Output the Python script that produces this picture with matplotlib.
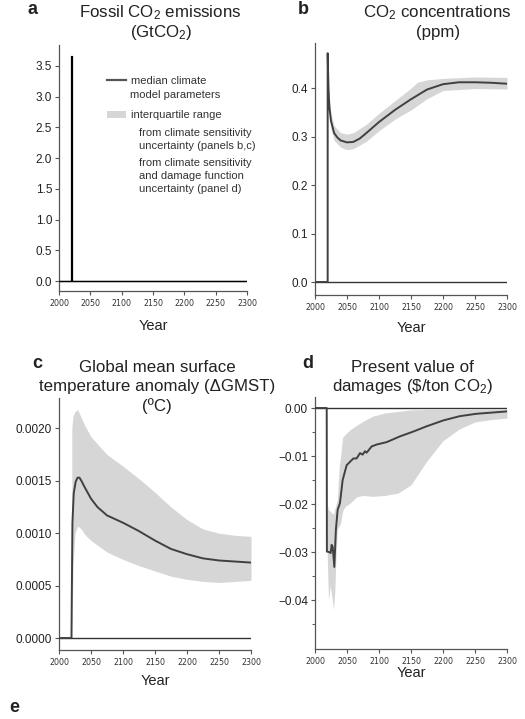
import numpy as np
import matplotlib
matplotlib.use("Agg")
import matplotlib.pyplot as plt
from matplotlib.lines import Line2D
from matplotlib.patches import Patch

plt.rcParams["font.family"] = ["Liberation Sans", "DejaVu Sans"]
plt.rcParams["mathtext.default"] = "regular"

LINE = "#404040"
BAND = "#d6d6d6"
TXT = "#222222"

# ── a: fossil CO2 emissions pulse ──────────────────────────────────────────
yr_a = [2000, 2019.5, 2019.5, 2020.5, 2020.5, 2300]
emis = [0.0, 0.0, 3.66, 3.66, 0.0, 0.0]

# ── b: CO2 concentrations ──────────────────────────────────────────────────
yr_b = [2000, 2019.8, 2019.8, 2021, 2022.4, 2025, 2030, 2035, 2040, 2050, 2060,
        2070, 2080, 2100, 2125, 2150, 2175, 2200, 2225, 2250, 2275, 2300]
conc_med = [0.0, 0.0, 0.472, 0.40, 0.362, 0.332, 0.307, 0.298, 0.292, 0.288, 0.289,
            0.296, 0.307, 0.330, 0.355, 0.377, 0.397, 0.408, 0.412, 0.412, 0.411, 0.409]
yr_b_band = [2021, 2022.4, 2025, 2030, 2040, 2050, 2060, 2080, 2100, 2125, 2150,
             2160, 2175, 2200, 2250, 2300]
conc_lo = [0.37, 0.345, 0.315, 0.292, 0.278, 0.273, 0.275, 0.290, 0.312, 0.336,
           0.355, 0.364, 0.378, 0.395, 0.399, 0.398]
conc_hi = [0.43, 0.38, 0.347, 0.322, 0.308, 0.305, 0.308, 0.325, 0.348, 0.374,
           0.400, 0.412, 0.417, 0.420, 0.423, 0.422]

# ── c: temperature anomaly ─────────────────────────────────────────────────
yr_c = [2000, 2019.5, 2020, 2021, 2023, 2026, 2029, 2032, 2035, 2040, 2050, 2060, 2075,
        2100, 2125, 2150, 2175, 2200, 2225, 2250, 2275, 2300]
temp_med = [0.0, 0.0, 0.0004, 0.0011, 0.00138, 0.00149, 0.00153, 0.00153, 0.00150, 0.00144,
            0.00133, 0.00125, 0.00117, 0.00110, 0.00102, 0.00093, 0.00085, 0.00080,
            0.00076, 0.00074, 0.00073, 0.00072]
yr_c_band = [2020, 2022, 2025, 2029, 2035, 2040, 2050, 2075, 2100, 2125, 2150, 2175,
             2200, 2225, 2250, 2275, 2300]
temp_lo = [0.0, 0.0007, 0.00100, 0.00107, 0.00104, 0.00099, 0.00093, 0.00082, 0.00075,
           0.00069, 0.00064, 0.00059, 0.00056, 0.00054, 0.00053, 0.00054, 0.00055]
temp_hi = [0.0020, 0.00212, 0.00216, 0.00218, 0.00210, 0.00203, 0.00192, 0.00175,
           0.00164, 0.00152, 0.00139, 0.00125, 0.00113, 0.00104, 0.00100, 0.00098, 0.00097]

# ── d: present value of damages ────────────────────────────────────────────
yr_d = [2000, 2018.3, 2018.6, 2022, 2024.5, 2026, 2027.6, 2030.2, 2032.6, 2035.4, 2039,
        2043.2, 2049.5, 2054.7, 2060, 2065, 2070.3, 2074.5, 2078.1, 2080.7, 2088.5,
        2096.4, 2112, 2132.8, 2153.6, 2174.5, 2200, 2226, 2252, 2300]
dmg_med = [0.0, 0.0, -0.0299, -0.0300, -0.0302, -0.0285, -0.0289, -0.0331, -0.0254,
           -0.0212, -0.0198, -0.0150, -0.0119, -0.0112, -0.0105, -0.0105, -0.0094,
           -0.0097, -0.0090, -0.0093, -0.0080, -0.0076, -0.0071, -0.0059, -0.0049,
           -0.0038, -0.0026, -0.0017, -0.0012, -0.0007]
yr_d_band = [2019, 2021, 2024, 2027, 2029, 2031, 2033, 2035, 2038, 2040, 2043, 2047,
             2055, 2065, 2075, 2090, 2110, 2130, 2150, 2175, 2200, 2225, 2250, 2275, 2300]
dmg_lo = [-0.030, -0.040, -0.037, -0.040, -0.042, -0.038, -0.030, -0.0253, -0.0245,
          -0.024, -0.0215, -0.0205, -0.0198, -0.0185, -0.0182, -0.0184, -0.0182,
          -0.0177, -0.0160, -0.0110, -0.0068, -0.0044, -0.0029, -0.0024, -0.0021]
dmg_hi = [-0.020, -0.0212, -0.0215, -0.022, -0.022, -0.021, -0.020, -0.019, -0.012,
          -0.0100, -0.0062, -0.0055, -0.0045, -0.0036, -0.0028, -0.0017, -0.0010,
          -0.0007, -0.0004, -0.0003, -0.0002, -0.0002, -0.0001, -0.0001, -0.0001]

W, H = 525, 719
fig = plt.figure(figsize=(W / 100, H / 100), dpi=100)


def px_axes(l, t, r, b):
    return fig.add_axes([l / W, 1 - b / H, (r - l) / W, (b - t) / H])


def style(ax, ylim, yticks, fmt, labelpad):
    ax.set_xlim(2000, 2300)
    ax.set_ylim(*ylim)
    for s in ["top", "right"]:
        ax.spines[s].set_visible(False)
    for s in ["left", "bottom"]:
        ax.spines[s].set_color("#555555")
        ax.spines[s].set_linewidth(0.9)
    ax.set_xticks(np.arange(2000, 2301, 50))
    ax.set_yticks(yticks)
    ax.set_yticklabels([fmt.format(v).replace("-", "\u2212") for v in yticks])
    ax.tick_params(direction="out", length=3, width=0.8, color="#555555", pad=2)
    ax.tick_params(axis="x", pad=2.5)
    for lab in ax.get_xticklabels():
        lab.set_fontfamily("DejaVu Sans")
        lab.set_fontsize(5.7)
        lab.set_color("#333333")
    for lab in ax.get_yticklabels():
        lab.set_fontsize(8.5)
        lab.set_color(TXT)
    ax.axhline(0, color="#333333", lw=1.0, zorder=1)
    ax.set_xlabel("Year", fontsize=10.5, color=TXT, labelpad=labelpad)


# panel a
ax_a = px_axes(59, 45, 247, 291)
ax_a.plot(yr_a, emis, color="black", lw=0.9, zorder=3)
style(ax_a, (-0.16, 3.84), np.arange(0, 3.51, 0.5), "{:.1f}", 8)
handles = [Line2D([], [], color="#555555", lw=1.6), Patch(facecolor=BAND, edgecolor="none")]
ax_a.legend(handles, ["median climate", "interquartile range"],
            loc="upper left", bbox_to_anchor=(0.255, 0.874), frameon=False,
            fontsize=8, handlelength=1.7, handletextpad=0.45, borderpad=0,
            borderaxespad=0, labelspacing=2.2, labelcolor="#333333")
tx = (130 - 59) / 188
ax_a.text(tx, (291 - 95) / 246, "model parameters", transform=ax_a.transAxes,
          fontsize=8, color="#333333", va="center")
ax_a.text(0.4255, 0.662, "from climate sensitivity\nuncertainty (panels b,c)",
          transform=ax_a.transAxes, fontsize=8, color="#333333", va="top", linespacing=1.38)
ax_a.text(0.4255, 0.540, "from climate sensitivity\nand damage function\nuncertainty (panel d)",
          transform=ax_a.transAxes, fontsize=8, color="#333333", va="top", linespacing=1.38)

# panel b
ax_b = px_axes(315, 43, 507, 295)
ax_b.fill_between(yr_b_band, conc_lo, conc_hi, color=BAND, lw=0, zorder=2)
ax_b.plot(yr_b, conc_med, color=LINE, lw=1.4, zorder=3)
style(ax_b, (-0.0268, 0.493), np.arange(0, 0.41, 0.1), "{:.1f}", 7)

# panel c
ax_c = px_axes(59, 398, 251, 650)
ax_c.fill_between(yr_c_band, temp_lo, temp_hi, color=BAND, lw=0, zorder=2)
ax_c.plot(yr_c, temp_med, color=LINE, lw=1.4, zorder=3)
style(ax_c, (-0.000114, 0.00229), np.arange(0, 0.00201, 0.0005), "{:.4f}", 5.5)

# panel d
ax_d = px_axes(315, 397, 507, 649)
ax_d.fill_between(yr_d_band, dmg_lo, dmg_hi, color=BAND, lw=0, zorder=2)
ax_d.plot(yr_d, dmg_med, color=LINE, lw=1.4, zorder=3)
style(ax_d, (-0.0502, 0.0023), [0, -0.01, -0.02, -0.03, -0.04], "{:.2f}", 0)
ax_d.set_yticks(np.arange(-0.045, 0, 0.01), minor=True)
ax_d.tick_params(which="minor", direction="out", length=2, width=0.7, color="#555555")


def ftext(x, y, s, **kw):
    fig.text(x / W, 1 - y / H, s, ha="center", va="center", color=TXT, **kw)


TS = 12.2
ftext(160, 13, "Fossil CO$_2$ emissions", fontsize=TS)
ftext(161, 32, "(GtCO$_2$)", fontsize=TS)
ftext(437, 13, "CO$_2$ concentrations", fontsize=TS)
ftext(438, 32, "(ppm)", fontsize=TS)
ftext(157, 367, "Global mean surface", fontsize=TS)
ftext(157, 386, "temperature anomaly (\u0394GMST)", fontsize=TS)
ftext(157, 406, "(\u00baC)", fontsize=TS)
ftext(412, 367, "Present value of", fontsize=TS)
ftext(413, 386, "damages ($\\$$/ton CO$_2$)", fontsize=TS)

for lx, ly, letter in [(33, 10, "a"), (303, 9, "b"), (37, 363, "c"), (308, 363, "d"), (14, 708, "e")]:
    ftext(lx, ly, letter, fontsize=13, fontweight="bold")

fig.savefig("out.png", dpi=100)
